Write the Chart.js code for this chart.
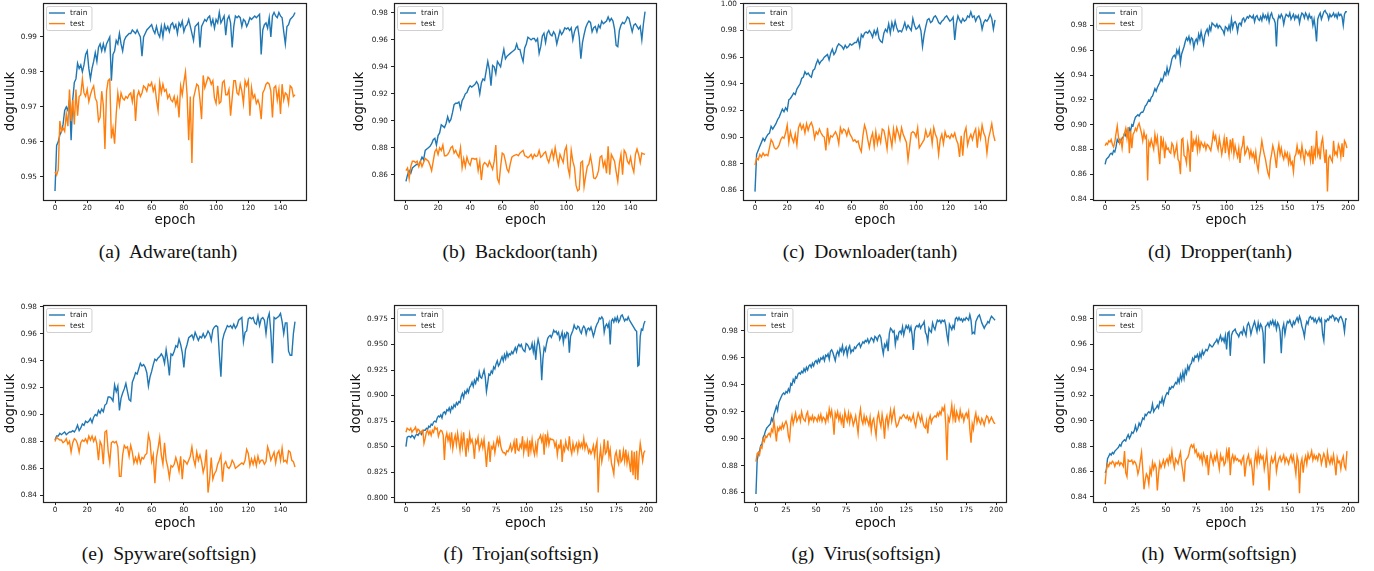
<!DOCTYPE html>
<html>
<head>
<meta charset="utf-8">
<script src="https://cdn.jsdelivr.net/npm/chart.js@4.4.0/dist/chart.umd.min.js"></script>
<style>
  body { margin: 0; background: #fff; width: 1374px; height: 571px; position: relative; overflow: hidden; }
  canvas { position: absolute; }
  .cap { position: absolute; font-family: "Liberation Serif", "Times New Roman", serif; font-size: 19.5px; line-height: 1; color: #111; white-space: pre; transform: translate(-50%, -50%); }
</style>
</head>
<body>
<script>
// accuracy per epoch
const adwareTrain = [
  0.946, 0.959, 0.960, 0.962, 0.963, 0.965, 0.969, 0.970, 0.969, 0.972,
  0.9605, 0.972, 0.977, 0.978, 0.9825, 0.981, 0.982, 0.980, 0.982, 0.985,
  0.986, 0.981, 0.978, 0.981, 0.983, 0.9855, 0.983, 0.987, 0.988, 0.986,
  0.988, 0.986, 0.988, 0.989, 0.990, 0.9775, 0.985, 0.986, 0.989, 0.988,
  0.991, 0.988, 0.986, 0.989, 0.990, 0.9905, 0.991, 0.991, 0.992, 0.9915,
  0.991, 0.992, 0.991, 0.990, 0.9845, 0.990, 0.991, 0.992, 0.9925, 0.993,
  0.9935, 0.992, 0.991, 0.993, 0.991, 0.990, 0.993, 0.990, 0.9935, 0.992,
  0.993, 0.9915, 0.9935, 0.994, 0.9925, 0.9935, 0.991, 0.994, 0.993, 0.9945,
  0.9915, 0.993, 0.9935, 0.995, 0.993, 0.991, 0.989, 0.993, 0.9935, 0.994,
  0.987, 0.993, 0.994, 0.995, 0.9945, 0.9955, 0.996, 0.9935, 0.995, 0.9925,
  0.995, 0.994, 0.997, 0.994, 0.995, 0.996, 0.9905, 0.995, 0.996, 0.994,
  0.987, 0.993, 0.996, 0.9955, 0.996, 0.9955, 0.993, 0.995, 0.9945, 0.993,
  0.994, 0.9955, 0.995, 0.9955, 0.996, 0.9955, 0.996, 0.9965, 0.985, 0.992,
  0.9935, 0.994, 0.9925, 0.9955, 0.990, 0.996, 0.997, 0.996, 0.9955, 0.997,
  0.996, 0.9955, 0.9915, 0.988, 0.993, 0.9935, 0.995, 0.9955, 0.996, 0.997
];
const adwareTest = [
  0.9515, 0.9505, 0.952, 0.966, 0.963, 0.964, 0.963, 0.968, 0.9645, 0.975,
  0.966, 0.972, 0.965, 0.975, 0.9675, 0.973, 0.9735, 0.978, 0.974, 0.973,
  0.975, 0.9715, 0.9735, 0.975, 0.976, 0.9725, 0.9715, 0.966, 0.967, 0.9745,
  0.9705, 0.958, 0.9745, 0.9775, 0.978, 0.961, 0.964, 0.9595, 0.968, 0.974,
  0.9705, 0.974, 0.9725, 0.972, 0.973, 0.9725, 0.9735, 0.974, 0.9715, 0.975,
  0.966, 0.973, 0.9745, 0.973, 0.974, 0.976, 0.9755, 0.9745, 0.9765, 0.976,
  0.977, 0.9745, 0.976, 0.972, 0.969, 0.977, 0.974, 0.9765, 0.9745, 0.975,
  0.9725, 0.9735, 0.972, 0.9715, 0.973, 0.9705, 0.9725, 0.967, 0.976, 0.9735,
  0.977, 0.980, 0.9735, 0.9605, 0.973, 0.954, 0.9725, 0.9745, 0.9765, 0.976,
  0.972, 0.9665, 0.979, 0.9755, 0.977, 0.9785, 0.978, 0.9765, 0.9775, 0.9725,
  0.971, 0.976, 0.971, 0.9715, 0.977, 0.9775, 0.9735, 0.9735, 0.975, 0.9675,
  0.9725, 0.9775, 0.9775, 0.974, 0.9735, 0.9765, 0.9745, 0.971, 0.9775, 0.976,
  0.9775, 0.9675, 0.9755, 0.9725, 0.9735, 0.971, 0.972, 0.9705, 0.9665, 0.974,
  0.975, 0.9765, 0.977, 0.9765, 0.9745, 0.967, 0.9755, 0.976, 0.972, 0.975,
  0.968, 0.9765, 0.972, 0.974, 0.9735, 0.971, 0.976, 0.9755, 0.973, 0.9735
];
const backdoorTrain = [
  0.855, 0.860, 0.863, 0.861, 0.865, 0.866, 0.867, 0.868, 0.867, 0.870,
  0.873, 0.871, 0.878, 0.879, 0.880, 0.881, 0.883, 0.886, 0.887, 0.882,
  0.889, 0.891, 0.897, 0.896, 0.895, 0.898, 0.903, 0.899, 0.901, 0.906,
  0.912, 0.913, 0.913, 0.914, 0.909, 0.915, 0.917, 0.920, 0.921, 0.924,
  0.926, 0.925, 0.926, 0.927, 0.929, 0.927, 0.920, 0.928, 0.931, 0.930,
  0.937, 0.944, 0.938, 0.926, 0.941, 0.940, 0.935, 0.944, 0.942, 0.940,
  0.947, 0.953, 0.946, 0.948, 0.949, 0.950, 0.951, 0.952, 0.953, 0.957,
  0.953, 0.953, 0.948, 0.944, 0.954, 0.957, 0.962, 0.961, 0.960, 0.961,
  0.961, 0.959, 0.961, 0.950, 0.955, 0.963, 0.965, 0.958, 0.965, 0.967,
  0.964, 0.963, 0.966, 0.964, 0.957, 0.962, 0.967, 0.964, 0.966, 0.969,
  0.968, 0.969, 0.967, 0.969, 0.960, 0.966, 0.969, 0.970, 0.962, 0.946,
  0.958, 0.964, 0.969, 0.972, 0.974, 0.973, 0.966, 0.969, 0.970, 0.966,
  0.971, 0.969, 0.974, 0.972, 0.973, 0.974, 0.977, 0.974, 0.976, 0.974,
  0.968, 0.956, 0.955, 0.967, 0.971, 0.973, 0.972, 0.974, 0.977, 0.976,
  0.971, 0.966, 0.971, 0.972, 0.970, 0.968, 0.970, 0.960, 0.972, 0.981
];
const backdoorTest = [
  0.863, 0.865, 0.857, 0.866, 0.870, 0.870, 0.869, 0.870, 0.866, 0.870,
  0.866, 0.869, 0.872, 0.871, 0.870, 0.867, 0.863, 0.870, 0.877, 0.879,
  0.875, 0.880, 0.878, 0.882, 0.874, 0.874, 0.875, 0.877, 0.880, 0.881,
  0.876, 0.878, 0.875, 0.873, 0.880, 0.865, 0.872, 0.866, 0.873, 0.869,
  0.867, 0.872, 0.872, 0.8715, 0.872, 0.863, 0.870, 0.856, 0.867, 0.869,
  0.868, 0.866, 0.870, 0.867, 0.864, 0.870, 0.882, 0.857, 0.854, 0.866,
  0.876, 0.875, 0.870, 0.864, 0.862, 0.868, 0.873, 0.874, 0.8745, 0.875,
  0.874, 0.876, 0.877, 0.878, 0.874, 0.8735, 0.8725, 0.8735, 0.875, 0.872,
  0.875, 0.8735, 0.874, 0.878, 0.873, 0.874, 0.876, 0.877, 0.872, 0.869,
  0.874, 0.878, 0.872, 0.880, 0.873, 0.867, 0.875, 0.872, 0.869, 0.878,
  0.881, 0.865, 0.8595, 0.878, 0.870, 0.8655, 0.852, 0.848, 0.849, 0.869,
  0.870, 0.851, 0.859, 0.866, 0.868, 0.874, 0.867, 0.8575, 0.857, 0.859,
  0.863, 0.873, 0.874, 0.866, 0.870, 0.861, 0.881, 0.860, 0.875, 0.8725,
  0.870, 0.862, 0.855, 0.868, 0.875, 0.860, 0.878, 0.876, 0.870, 0.868,
  0.873, 0.866, 0.862, 0.875, 0.879, 0.875, 0.869, 0.876, 0.8755, 0.875
];
const downloaderTrain = [
  0.859, 0.887, 0.890, 0.893, 0.896, 0.899, 0.897, 0.900, 0.902, 0.903,
  0.908, 0.906, 0.908, 0.910, 0.913, 0.915, 0.918, 0.921, 0.919, 0.922,
  0.920, 0.928, 0.929, 0.931, 0.933, 0.932, 0.936, 0.938, 0.940, 0.944,
  0.945, 0.949, 0.947, 0.948, 0.946, 0.945, 0.950, 0.951, 0.955, 0.958,
  0.955, 0.957, 0.958, 0.960, 0.961, 0.962, 0.958, 0.963, 0.966, 0.962,
  0.964, 0.968, 0.970, 0.969, 0.968, 0.966, 0.969, 0.967, 0.968, 0.970,
  0.969, 0.970, 0.971, 0.971, 0.974, 0.968, 0.977, 0.975, 0.978, 0.979,
  0.978, 0.980, 0.978, 0.975, 0.980, 0.977, 0.981, 0.974, 0.972, 0.971,
  0.978, 0.981, 0.979, 0.985, 0.978, 0.986, 0.981, 0.987, 0.982, 0.979,
  0.980, 0.979, 0.982, 0.986, 0.981, 0.984, 0.982, 0.980, 0.989, 0.984,
  0.981, 0.982, 0.984, 0.980, 0.968, 0.977, 0.983, 0.988, 0.989, 0.986,
  0.987, 0.990, 0.991, 0.989, 0.986, 0.985, 0.987, 0.988, 0.990, 0.991,
  0.989, 0.987, 0.988, 0.990, 0.973, 0.985, 0.991, 0.988, 0.986, 0.989,
  0.987, 0.988, 0.991, 0.990, 0.994, 0.990, 0.991, 0.987, 0.990, 0.991,
  0.988, 0.981, 0.986, 0.988, 0.987, 0.989, 0.992, 0.989, 0.981, 0.988
];
const downloaderTest = [
  0.879, 0.884, 0.883, 0.887, 0.885, 0.888, 0.886, 0.887, 0.886, 0.892,
  0.898, 0.896, 0.892, 0.891, 0.892, 0.894, 0.898, 0.900, 0.899, 0.903,
  0.909, 0.896, 0.904, 0.899, 0.896, 0.902, 0.894, 0.907, 0.910, 0.906,
  0.909, 0.903, 0.910, 0.905, 0.909, 0.911, 0.907, 0.899, 0.904, 0.902,
  0.906, 0.903, 0.901, 0.900, 0.890, 0.907, 0.896, 0.901, 0.900, 0.902,
  0.904, 0.901, 0.895, 0.907, 0.903, 0.906, 0.905, 0.901, 0.906, 0.902,
  0.900, 0.897, 0.898, 0.896, 0.897, 0.892, 0.889, 0.901, 0.909, 0.905,
  0.898, 0.892, 0.899, 0.903, 0.893, 0.904, 0.895, 0.901, 0.896, 0.906,
  0.905, 0.899, 0.891, 0.906, 0.900, 0.893, 0.906, 0.898, 0.907, 0.903,
  0.898, 0.907, 0.902, 0.899, 0.896, 0.883, 0.893, 0.903, 0.904, 0.903,
  0.900, 0.907, 0.892, 0.894, 0.896, 0.898, 0.905, 0.900, 0.901, 0.905,
  0.895, 0.907, 0.902, 0.899, 0.887, 0.898, 0.902, 0.895, 0.904, 0.900,
  0.901, 0.899, 0.902, 0.900, 0.903, 0.898, 0.895, 0.885, 0.901, 0.886,
  0.903, 0.907, 0.894, 0.899, 0.902, 0.898, 0.903, 0.906, 0.892, 0.905,
  0.899, 0.909, 0.903, 0.900, 0.888, 0.899, 0.904, 0.910, 0.902, 0.897
];
const dropperTrain = [
  0.868, 0.872, 0.873, 0.874, 0.876, 0.877, 0.876, 0.879, 0.878, 0.882,
  0.888, 0.886, 0.888, 0.887, 0.889, 0.890, 0.893, 0.891, 0.895, 0.890,
  0.897, 0.895, 0.900, 0.899, 0.903, 0.906, 0.907, 0.908, 0.907, 0.909,
  0.910, 0.910, 0.912, 0.915, 0.916, 0.918, 0.920, 0.919, 0.922, 0.923,
  0.926, 0.929, 0.927, 0.930, 0.932, 0.934, 0.937, 0.935, 0.938, 0.942,
  0.940, 0.946, 0.941, 0.944, 0.948, 0.953, 0.955, 0.956, 0.954, 0.960,
  0.957, 0.961, 0.950, 0.957, 0.960, 0.963, 0.967, 0.970, 0.968, 0.971,
  0.966, 0.970, 0.969, 0.962, 0.967, 0.969, 0.966, 0.973, 0.969, 0.975,
  0.970, 0.965, 0.972, 0.975, 0.977, 0.973, 0.979, 0.976, 0.982, 0.981,
  0.980, 0.979, 0.981, 0.978, 0.980, 0.979, 0.977, 0.976, 0.973, 0.979,
  0.978, 0.976, 0.980, 0.976, 0.985, 0.978, 0.982, 0.983, 0.981, 0.975,
  0.981, 0.982, 0.980, 0.985, 0.986, 0.983, 0.985, 0.987, 0.986, 0.988,
  0.987, 0.986, 0.988, 0.983, 0.987, 0.988, 0.985, 0.984, 0.987, 0.984,
  0.989, 0.986, 0.988, 0.985, 0.989, 0.983, 0.988, 0.990, 0.986, 0.985,
  0.982, 0.963, 0.984, 0.988, 0.986, 0.989, 0.987, 0.981, 0.986, 0.989,
  0.988, 0.987, 0.990, 0.985, 0.987, 0.989, 0.985, 0.988, 0.986, 0.988,
  0.982, 0.987, 0.990, 0.989, 0.986, 0.990, 0.988, 0.985, 0.989, 0.986,
  0.987, 0.980, 0.985, 0.978, 0.967, 0.985, 0.988, 0.990, 0.985, 0.988,
  0.991, 0.992, 0.990, 0.989, 0.985, 0.989, 0.987, 0.988, 0.990, 0.987,
  0.989, 0.986, 0.990, 0.988, 0.989, 0.987, 0.980, 0.989, 0.991, 0.991
];
const dropperTest = [
  0.883, 0.885, 0.884, 0.887, 0.886, 0.888, 0.884, 0.882, 0.886, 0.893,
  0.899, 0.890, 0.885, 0.888, 0.881, 0.890, 0.893, 0.897, 0.889, 0.898,
  0.877, 0.895, 0.881, 0.892, 0.894, 0.897, 0.895, 0.899, 0.901, 0.897,
  0.893, 0.887, 0.894, 0.889, 0.891, 0.855, 0.886, 0.883, 0.888, 0.884,
  0.880, 0.892, 0.885, 0.890, 0.878, 0.868, 0.891, 0.882, 0.887, 0.873,
  0.884, 0.880, 0.881, 0.878, 0.877, 0.885, 0.883, 0.875, 0.879, 0.884,
  0.872, 0.870, 0.860, 0.888, 0.889, 0.875, 0.874, 0.869, 0.884, 0.878,
  0.862, 0.895, 0.878, 0.887, 0.884, 0.889, 0.879, 0.888, 0.880, 0.886,
  0.884, 0.882, 0.885, 0.880, 0.884, 0.883, 0.881, 0.879, 0.885, 0.893,
  0.888, 0.891, 0.884, 0.880, 0.889, 0.883, 0.876, 0.882, 0.889, 0.877,
  0.890, 0.882, 0.875, 0.888, 0.880, 0.889, 0.876, 0.883, 0.878, 0.874,
  0.881, 0.869, 0.880, 0.883, 0.891, 0.876, 0.878, 0.882, 0.880, 0.874,
  0.879, 0.874, 0.877, 0.871, 0.878, 0.868, 0.863, 0.873, 0.879, 0.887,
  0.881, 0.876, 0.872, 0.866, 0.861, 0.858, 0.871, 0.876, 0.883, 0.879,
  0.873, 0.865, 0.878, 0.884, 0.876, 0.881, 0.875, 0.872, 0.878, 0.874,
  0.877, 0.869, 0.875, 0.868, 0.870, 0.862, 0.874, 0.876, 0.883, 0.877,
  0.879, 0.874, 0.883, 0.876, 0.870, 0.879, 0.877, 0.875, 0.878, 0.871,
  0.883, 0.868, 0.880, 0.875, 0.895, 0.876, 0.880, 0.872, 0.885, 0.889,
  0.878, 0.869, 0.880, 0.846, 0.873, 0.875, 0.872, 0.870, 0.887, 0.876,
  0.878, 0.875, 0.884, 0.881, 0.874, 0.885, 0.874, 0.887, 0.885, 0.881
];
const spywareTrain = [
  0.881, 0.884, 0.884, 0.886, 0.885, 0.886, 0.887, 0.885, 0.886, 0.887,
  0.887, 0.888, 0.887, 0.889, 0.892, 0.888, 0.890, 0.893, 0.892, 0.895,
  0.894, 0.895, 0.897, 0.894, 0.898, 0.900, 0.899, 0.903, 0.901, 0.904,
  0.902, 0.907, 0.908, 0.913, 0.913, 0.912, 0.910, 0.922, 0.917, 0.921,
  0.903, 0.912, 0.916, 0.919, 0.923, 0.917, 0.911, 0.910, 0.924, 0.927,
  0.931, 0.930, 0.934, 0.938, 0.936, 0.937, 0.935, 0.931, 0.921, 0.928,
  0.932, 0.937, 0.941, 0.940, 0.942, 0.943, 0.945, 0.943, 0.938, 0.948,
  0.940, 0.929, 0.945, 0.944, 0.947, 0.951, 0.950, 0.956, 0.952, 0.946,
  0.935, 0.948, 0.952, 0.957, 0.958, 0.959, 0.956, 0.961, 0.958, 0.955,
  0.958, 0.957, 0.960, 0.957, 0.959, 0.962, 0.960, 0.955, 0.963, 0.965,
  0.966, 0.965, 0.945, 0.928, 0.955, 0.960, 0.963, 0.966, 0.965, 0.966,
  0.964, 0.967, 0.964, 0.966, 0.970, 0.971, 0.972, 0.954, 0.961, 0.962,
  0.971, 0.972, 0.971, 0.972, 0.968, 0.967, 0.973, 0.966, 0.971, 0.972,
  0.970, 0.960, 0.971, 0.975, 0.961, 0.938, 0.972, 0.971, 0.972, 0.973,
  0.975, 0.969, 0.960, 0.968, 0.968, 0.947, 0.944, 0.944, 0.960, 0.969
];
const spywareTest = [
  0.880, 0.883, 0.882, 0.881, 0.881, 0.879, 0.880, 0.882, 0.878, 0.880,
  0.872, 0.879, 0.882, 0.881, 0.878, 0.872, 0.879, 0.881, 0.880, 0.882,
  0.879, 0.884, 0.881, 0.884, 0.880, 0.883, 0.878, 0.866, 0.880, 0.877,
  0.863, 0.887, 0.888, 0.873, 0.864, 0.879, 0.880, 0.879, 0.880, 0.876,
  0.854, 0.854, 0.870, 0.877, 0.875, 0.876, 0.869, 0.877, 0.872, 0.864,
  0.868, 0.864, 0.870, 0.864, 0.868, 0.867, 0.870, 0.871, 0.885, 0.880,
  0.865, 0.870, 0.849, 0.868, 0.875, 0.883, 0.870, 0.863, 0.879, 0.866,
  0.861, 0.853, 0.862, 0.861, 0.863, 0.868, 0.864, 0.858, 0.869, 0.852,
  0.866, 0.865, 0.863, 0.866, 0.869, 0.876, 0.867, 0.862, 0.872, 0.866,
  0.870, 0.865, 0.857, 0.862, 0.874, 0.842, 0.852, 0.868, 0.852, 0.856,
  0.858, 0.863, 0.866, 0.870, 0.850, 0.863, 0.865, 0.861, 0.860, 0.862,
  0.866, 0.864, 0.860, 0.861, 0.862, 0.863, 0.864, 0.863, 0.866, 0.874,
  0.871, 0.862, 0.867, 0.863, 0.868, 0.862, 0.869, 0.864, 0.866, 0.866,
  0.863, 0.865, 0.876, 0.872, 0.866, 0.869, 0.872, 0.864, 0.871, 0.873,
  0.866, 0.875, 0.865, 0.866, 0.864, 0.873, 0.872, 0.866, 0.865, 0.861
];
const trojanTrain = [
  0.850, 0.859, 0.860, 0.860, 0.859, 0.861, 0.860, 0.858, 0.861, 0.862,
  0.861, 0.863, 0.864, 0.862, 0.865, 0.866, 0.866, 0.868, 0.867, 0.870,
  0.869, 0.872, 0.871, 0.874, 0.875, 0.874, 0.878, 0.880, 0.879, 0.881,
  0.878, 0.883, 0.884, 0.882, 0.886, 0.885, 0.888, 0.884, 0.889, 0.887,
  0.891, 0.889, 0.893, 0.891, 0.894, 0.893, 0.899, 0.902, 0.898, 0.904,
  0.902, 0.906, 0.903, 0.908, 0.910, 0.913, 0.909, 0.915, 0.912, 0.917,
  0.915, 0.923, 0.918, 0.917, 0.921, 0.925, 0.918, 0.904, 0.912, 0.921,
  0.920, 0.924, 0.922, 0.928, 0.926, 0.931, 0.934, 0.929, 0.931, 0.935,
  0.938, 0.934, 0.940, 0.936, 0.942, 0.938, 0.941, 0.940, 0.943, 0.941,
  0.944, 0.947, 0.943, 0.948, 0.950, 0.948, 0.950, 0.946, 0.944, 0.943,
  0.951, 0.950, 0.948, 0.945, 0.946, 0.951, 0.943, 0.950, 0.935, 0.948,
  0.955, 0.950, 0.940, 0.915, 0.936, 0.947, 0.944, 0.951, 0.956, 0.958,
  0.959, 0.957, 0.960, 0.964, 0.962, 0.963, 0.960, 0.962, 0.955, 0.958,
  0.962, 0.952, 0.960, 0.957, 0.962, 0.961, 0.942, 0.958, 0.961, 0.964,
  0.969, 0.966, 0.965, 0.968, 0.967, 0.963, 0.961, 0.966, 0.968, 0.966,
  0.960, 0.965, 0.966, 0.964, 0.967, 0.963, 0.958, 0.962, 0.967, 0.970,
  0.972, 0.976, 0.975, 0.977, 0.975, 0.962, 0.968, 0.970, 0.967, 0.971,
  0.950, 0.973, 0.975, 0.972, 0.976, 0.973, 0.977, 0.972, 0.974, 0.978,
  0.979, 0.976, 0.973, 0.975, 0.974, 0.977, 0.974, 0.972, 0.970, 0.968,
  0.966, 0.964, 0.963, 0.929, 0.930, 0.958, 0.965, 0.964, 0.970, 0.973
];
const trojanTest = [
  0.864, 0.868, 0.867, 0.866, 0.868, 0.864, 0.866, 0.867, 0.869, 0.864,
  0.867, 0.866, 0.863, 0.865, 0.866, 0.853, 0.858, 0.864, 0.866, 0.862,
  0.865, 0.861, 0.866, 0.864, 0.869, 0.867, 0.868, 0.860, 0.864, 0.866,
  0.865, 0.861, 0.837, 0.858, 0.863, 0.856, 0.861, 0.852, 0.864, 0.848,
  0.856, 0.861, 0.852, 0.863, 0.855, 0.846, 0.860, 0.850, 0.864, 0.852,
  0.840, 0.858, 0.849, 0.862, 0.854, 0.857, 0.851, 0.838, 0.856, 0.853,
  0.859, 0.847, 0.851, 0.856, 0.849, 0.857, 0.845, 0.830, 0.846, 0.855,
  0.835, 0.850, 0.848, 0.853, 0.844, 0.852, 0.858, 0.852, 0.858, 0.850,
  0.846, 0.844, 0.844, 0.842, 0.846, 0.845, 0.848, 0.852, 0.846, 0.849,
  0.855, 0.843, 0.858, 0.847, 0.846, 0.852, 0.849, 0.860, 0.844, 0.853,
  0.848, 0.855, 0.840, 0.856, 0.846, 0.857, 0.847, 0.842, 0.852, 0.844,
  0.857, 0.858, 0.861, 0.855, 0.860, 0.842, 0.862, 0.853, 0.862, 0.852,
  0.858, 0.857, 0.857, 0.856, 0.850, 0.854, 0.842, 0.851, 0.849, 0.857,
  0.835, 0.850, 0.846, 0.855, 0.849, 0.847, 0.860, 0.848, 0.843, 0.853,
  0.846, 0.850, 0.853, 0.845, 0.854, 0.849, 0.853, 0.849, 0.858, 0.848,
  0.853, 0.850, 0.844, 0.847, 0.843, 0.846, 0.851, 0.841, 0.850, 0.855,
  0.805, 0.838, 0.848, 0.835, 0.842, 0.857, 0.843, 0.845, 0.856, 0.840,
  0.847, 0.834, 0.829, 0.823, 0.841, 0.845, 0.837, 0.833, 0.847, 0.835,
  0.837, 0.846, 0.836, 0.847, 0.834, 0.842, 0.834, 0.825, 0.846, 0.822,
  0.845, 0.818, 0.846, 0.817, 0.840, 0.853, 0.845, 0.836, 0.844, 0.846
];
const virusTrain = [
  0.859, 0.884, 0.889, 0.891, 0.895, 0.896, 0.901, 0.903, 0.906, 0.908,
  0.909, 0.910, 0.911, 0.915, 0.913, 0.918, 0.921, 0.924, 0.921, 0.927,
  0.929, 0.931, 0.933, 0.934, 0.933, 0.935, 0.934, 0.937, 0.935, 0.941,
  0.940, 0.944, 0.942, 0.946, 0.945, 0.948, 0.949, 0.948, 0.950, 0.949,
  0.952, 0.950, 0.953, 0.951, 0.954, 0.955, 0.953, 0.956, 0.954, 0.957,
  0.958, 0.956, 0.959, 0.957, 0.960, 0.959, 0.961, 0.958, 0.962, 0.961,
  0.963, 0.959, 0.965, 0.966, 0.964, 0.961, 0.958, 0.963, 0.965, 0.962,
  0.967, 0.965, 0.969, 0.963, 0.966, 0.968, 0.962, 0.967, 0.969, 0.964,
  0.966, 0.965, 0.968, 0.967, 0.969, 0.970, 0.971, 0.968, 0.970, 0.972,
  0.971, 0.973, 0.972, 0.974, 0.971, 0.973, 0.975, 0.974, 0.972, 0.976,
  0.975, 0.973, 0.976, 0.977, 0.975, 0.968, 0.963, 0.970, 0.968, 0.972,
  0.965, 0.978, 0.982, 0.981, 0.979, 0.980, 0.970, 0.976, 0.974, 0.979,
  0.980, 0.978, 0.983, 0.977, 0.981, 0.984, 0.982, 0.984, 0.980, 0.983,
  0.977, 0.966, 0.980, 0.983, 0.984, 0.983, 0.985, 0.982, 0.984, 0.985,
  0.987, 0.979, 0.977, 0.972, 0.982, 0.980, 0.979, 0.986, 0.983, 0.981,
  0.985, 0.988, 0.987, 0.988, 0.986, 0.988, 0.987, 0.988, 0.984, 0.977,
  0.972, 0.985, 0.983, 0.981, 0.984, 0.982, 0.989, 0.990, 0.988, 0.990,
  0.988, 0.989, 0.987, 0.989, 0.988, 0.990, 0.989, 0.988, 0.992, 0.988,
  0.978, 0.979, 0.978, 0.987, 0.989, 0.991, 0.992, 0.989, 0.986, 0.984,
  0.982, 0.984, 0.985, 0.987, 0.986, 0.989, 0.991, 0.990, 0.989, 0.988
];
const virusTest = [
  0.883, 0.889, 0.890, 0.888, 0.894, 0.893, 0.900, 0.898, 0.902, 0.901,
  0.903, 0.904, 0.902, 0.907, 0.905, 0.913, 0.906, 0.898, 0.908, 0.906,
  0.909, 0.907, 0.911, 0.908, 0.911, 0.913, 0.910, 0.902, 0.899, 0.912,
  0.917, 0.911, 0.915, 0.919, 0.913, 0.915, 0.917, 0.913, 0.920, 0.916,
  0.914, 0.913, 0.918, 0.920, 0.912, 0.916, 0.914, 0.917, 0.913, 0.916,
  0.915, 0.913, 0.917, 0.914, 0.918, 0.913, 0.916, 0.915, 0.912, 0.918,
  0.914, 0.922, 0.917, 0.921, 0.914, 0.903, 0.919, 0.916, 0.920, 0.914,
  0.918, 0.912, 0.916, 0.908, 0.920, 0.916, 0.913, 0.919, 0.912, 0.918,
  0.915, 0.910, 0.913, 0.917, 0.911, 0.904, 0.916, 0.922, 0.914, 0.911,
  0.917, 0.912, 0.916, 0.913, 0.910, 0.916, 0.906, 0.913, 0.915, 0.908,
  0.902, 0.915, 0.919, 0.913, 0.909, 0.918, 0.912, 0.900, 0.914, 0.917,
  0.909, 0.915, 0.921, 0.913, 0.918, 0.922, 0.914, 0.909, 0.910, 0.913,
  0.916, 0.915, 0.917, 0.918, 0.916, 0.915, 0.917, 0.914, 0.916, 0.913,
  0.915, 0.918, 0.912, 0.909, 0.915, 0.919, 0.916, 0.913, 0.917, 0.912,
  0.909, 0.908, 0.913, 0.904, 0.914, 0.917, 0.912, 0.915, 0.916, 0.917,
  0.916, 0.919, 0.917, 0.920, 0.918, 0.923, 0.921, 0.924, 0.910, 0.884,
  0.916, 0.913, 0.918, 0.925, 0.915, 0.922, 0.912, 0.920, 0.917, 0.914,
  0.921, 0.916, 0.918, 0.913, 0.917, 0.919, 0.916, 0.920, 0.907, 0.897,
  0.911, 0.907, 0.915, 0.919, 0.912, 0.916, 0.913, 0.911, 0.915, 0.913,
  0.910, 0.914, 0.917, 0.916, 0.912, 0.914, 0.916, 0.914, 0.912, 0.911
];
const wormTrain = [
  0.859, 0.861, 0.870, 0.872, 0.874, 0.873, 0.875, 0.874, 0.876, 0.877,
  0.878, 0.879, 0.881, 0.880, 0.883, 0.884, 0.885, 0.884, 0.887, 0.889,
  0.886, 0.888, 0.891, 0.890, 0.892, 0.896, 0.892, 0.894, 0.898, 0.896,
  0.899, 0.902, 0.901, 0.905, 0.904, 0.906, 0.907, 0.906, 0.908, 0.913,
  0.907, 0.909, 0.910, 0.912, 0.910, 0.915, 0.914, 0.918, 0.913, 0.917,
  0.920, 0.922, 0.921, 0.926, 0.925, 0.927, 0.926, 0.928, 0.930, 0.929,
  0.933, 0.930, 0.936, 0.932, 0.938, 0.933, 0.940, 0.937, 0.943, 0.940,
  0.944, 0.945, 0.949, 0.947, 0.951, 0.950, 0.952, 0.948, 0.953, 0.950,
  0.955, 0.952, 0.954, 0.956, 0.955, 0.957, 0.960, 0.959, 0.958, 0.959,
  0.961, 0.962, 0.964, 0.961, 0.964, 0.967, 0.963, 0.965, 0.962, 0.967,
  0.956, 0.969, 0.970, 0.951, 0.967, 0.970, 0.971, 0.972, 0.969, 0.968,
  0.966, 0.969, 0.970, 0.968, 0.973, 0.970, 0.967, 0.975, 0.977, 0.974,
  0.968, 0.972, 0.975, 0.978, 0.974, 0.970, 0.977, 0.972, 0.976, 0.974,
  0.969, 0.945, 0.974, 0.975, 0.977, 0.974, 0.978, 0.976, 0.979, 0.975,
  0.978, 0.972, 0.977, 0.975, 0.970, 0.953, 0.972, 0.976, 0.968, 0.974,
  0.978, 0.977, 0.979, 0.976, 0.974, 0.978, 0.976, 0.979, 0.981, 0.978,
  0.982, 0.979, 0.974, 0.971, 0.966, 0.974, 0.978, 0.976, 0.981, 0.982,
  0.980, 0.981, 0.978, 0.980, 0.977, 0.979, 0.981, 0.978, 0.980, 0.968,
  0.963, 0.979, 0.978, 0.980, 0.979, 0.982, 0.981, 0.983, 0.982, 0.979,
  0.981, 0.980, 0.978, 0.981, 0.982, 0.980, 0.977, 0.970, 0.980, 0.980
];
const wormTest = [
  0.850, 0.861, 0.866, 0.864, 0.867, 0.866, 0.868, 0.867, 0.864, 0.867,
  0.866, 0.868, 0.865, 0.867, 0.866, 0.864, 0.876, 0.859, 0.856, 0.869,
  0.868, 0.868, 0.869, 0.866, 0.868, 0.867, 0.864, 0.858, 0.862, 0.869,
  0.875, 0.862, 0.846, 0.853, 0.858, 0.856, 0.850, 0.862, 0.858, 0.867,
  0.862, 0.866, 0.863, 0.845, 0.858, 0.867, 0.863, 0.866, 0.869, 0.864,
  0.868, 0.870, 0.866, 0.872, 0.868, 0.876, 0.868, 0.863, 0.870, 0.868,
  0.866, 0.871, 0.875, 0.866, 0.860, 0.852, 0.868, 0.870, 0.871, 0.874,
  0.879, 0.881, 0.879, 0.881, 0.875, 0.877, 0.872, 0.874, 0.870, 0.873,
  0.867, 0.874, 0.871, 0.866, 0.873, 0.857, 0.868, 0.874, 0.870, 0.866,
  0.872, 0.869, 0.875, 0.868, 0.862, 0.873, 0.869, 0.871, 0.865, 0.867,
  0.876, 0.870, 0.879, 0.857, 0.870, 0.873, 0.868, 0.872, 0.869, 0.870,
  0.868, 0.869, 0.866, 0.870, 0.872, 0.856, 0.865, 0.870, 0.873, 0.866,
  0.869, 0.862, 0.849, 0.868, 0.874, 0.866, 0.876, 0.868, 0.873, 0.870,
  0.872, 0.862, 0.868, 0.875, 0.863, 0.845, 0.866, 0.871, 0.867, 0.869,
  0.873, 0.860, 0.866, 0.870, 0.872, 0.868, 0.870, 0.873, 0.867, 0.871,
  0.869, 0.866, 0.870, 0.873, 0.868, 0.872, 0.865, 0.858, 0.872, 0.868,
  0.843, 0.866, 0.870, 0.859, 0.868, 0.872, 0.866, 0.874, 0.870, 0.872,
  0.876, 0.869, 0.873, 0.870, 0.872, 0.869, 0.874, 0.873, 0.866, 0.870,
  0.874, 0.871, 0.863, 0.875, 0.869, 0.866, 0.871, 0.867, 0.873, 0.866,
  0.857, 0.871, 0.867, 0.868, 0.862, 0.869, 0.872, 0.864, 0.862, 0.876
];

// tick labels
const xTicks150 = [0, 20, 40, 60, 80, 100, 120, 140];
const xTicks200 = [0, 25, 50, 75, 100, 125, 150, 175, 200];
const yTicksAdware = [0.95, 0.96, 0.97, 0.98, 0.99];
const yTicksBackdoor = [0.86, 0.88, 0.90, 0.92, 0.94, 0.96, 0.98];
const yTicksDownloader = [0.86, 0.88, 0.90, 0.92, 0.94, 0.96, 0.98, 1.00];
const yTicksDropper = [0.84, 0.86, 0.88, 0.90, 0.92, 0.94, 0.96, 0.98];
const yTicksSpyware = [0.84, 0.86, 0.88, 0.90, 0.92, 0.94, 0.96, 0.98];
const yTicksTrojan = [0.800, 0.825, 0.850, 0.875, 0.900, 0.925, 0.950, 0.975];
const yTicksVirus = [0.86, 0.88, 0.90, 0.92, 0.94, 0.96, 0.98];
const yTicksWorm = [0.84, 0.86, 0.88, 0.90, 0.92, 0.94, 0.96, 0.98];

const captions = ['(a)  Adware(tanh)', '(b)  Backdoor(tanh)', '(c)  Downloader(tanh)', '(d)  Dropper(tanh)',
  '(e)  Spyware(softsign)', '(f)  Trojan(softsign)', '(g)  Virus(softsign)', '(h)  Worm(softsign)'];

// layout: frame = [left, right, top, bottom] of the axes box in page pixels
const panels = [
  { train: adwareTrain, test: adwareTest, xt: xTicks150, yt: yTicksAdware, dec: 2, yMin: 0.9434, yMax: 0.9997, frame: [43, 307, 3, 200], titleX: 11, epochY: 220, capX: 168, capY: 252 },
  { train: backdoorTrain, test: backdoorTest, xt: xTicks150, yt: yTicksBackdoor, dec: 2, yMin: 0.8412, yMax: 0.9874, frame: [394, 657, 3, 200], titleX: 360, epochY: 220, capX: 520, capY: 252 },
  { train: downloaderTrain, test: downloaderTest, xt: xTicks150, yt: yTicksDownloader, dec: 2, yMin: 0.8527, yMax: 1.0007, frame: [743, 1007, 3, 200], titleX: 711, epochY: 220, capX: 870, capY: 252 },
  { train: dropperTrain, test: dropperTest, xt: xTicks200, yt: yTicksDropper, dec: 2, yMin: 0.8392, yMax: 0.9981, frame: [1093, 1359, 3, 200], titleX: 1061, epochY: 220, capX: 1220, capY: 252 },
  { train: spywareTrain, test: spywareTest, xt: xTicks150, yt: yTicksSpyware, dec: 2, yMin: 0.835, yMax: 0.9813, frame: [43, 307, 305, 502], titleX: 11, epochY: 523, capX: 169, capY: 554 },
  { train: trojanTrain, test: trojanTest, xt: xTicks200, yt: yTicksTrojan, dec: 3, yMin: 0.7957, yMax: 0.9887, frame: [394, 657, 305, 502], titleX: 357, epochY: 523, capX: 521, capY: 554 },
  { train: virusTrain, test: virusTest, xt: xTicks200, yt: yTicksVirus, dec: 2, yMin: 0.853, yMax: 0.9993, frame: [744, 1007, 305, 502], titleX: 711, epochY: 523, capX: 866, capY: 554 },
  { train: wormTrain, test: wormTest, xt: xTicks200, yt: yTicksWorm, dec: 2, yMin: 0.836, yMax: 0.991, frame: [1093, 1359, 305, 502], titleX: 1061, epochY: 523, capX: 1219, capY: 554 }
];

Chart.defaults.font.family = 'DejaVu Sans';
Chart.defaults.color = '#222';

// matplotlib-like box around the axes
const framePlugin = {
  id: 'frame',
  afterDraw(chart) {
    const a = chart.chartArea, ctx = chart.ctx;
    ctx.save();
    ctx.strokeStyle = '#222';
    ctx.lineWidth = 1.2;
    ctx.strokeRect(a.left + 0.5, a.top + 0.5, a.right - a.left - 1, a.bottom - a.top);
    ctx.restore();
  }
};

// legend drawn inside the upper-left corner, like plt.legend()
const insideLegend = {
  id: 'insideLegend',
  afterDraw(chart) {
    const a = chart.chartArea, ctx = chart.ctx;
    const x = a.left + 3, y = a.top + 3;
    ctx.save();
    ctx.font = '7.5px "DejaVu Sans"';
    const tw = Math.max(...chart.data.datasets.map(d => ctx.measureText(d.label).width));
    const w = 24 + tw + 4, h = 24;
    ctx.beginPath();
    ctx.roundRect(x + 0.5, y + 0.5, w, h, 2);
    ctx.fillStyle = 'rgba(255,255,255,0.8)';
    ctx.fill();
    ctx.strokeStyle = '#d0d0d0';
    ctx.lineWidth = 1;
    ctx.stroke();
    chart.data.datasets.forEach((d, i) => {
      const ly = y + 7 + i * 10.6;
      ctx.beginPath();
      ctx.moveTo(x + 3, ly);
      ctx.lineTo(x + 19, ly);
      ctx.strokeStyle = d.borderColor;
      ctx.lineWidth = 1.4;
      ctx.stroke();
      ctx.fillStyle = '#222';
      ctx.textBaseline = 'middle';
      ctx.fillText(d.label, x + 24, ly);
    });
    ctx.restore();
  }
};

panels.forEach((p, k) => {
  const [L, R, T, B] = p.frame;
  const yW = Math.round(L - p.titleX + 6.75);
  const xH = Math.round(p.epochY + 6.75 - B);
  const n = p.train.length;
  const pad = n * 0.05 - 0.05;

  const cv = document.createElement('canvas');
  cv.width = R - L + yW + 10;
  cv.height = B - T + 10 + xH;
  cv.style.left = (L - yW) + 'px';
  cv.style.top = (T - 10) + 'px';
  document.body.appendChild(cv);

  new Chart(cv, {
    type: 'line',
    data: {
      datasets: [
        { label: 'train', data: p.train.map((v, i) => ({ x: i, y: v })), borderColor: '#1f77b4', borderWidth: 1.4, pointRadius: 0, order: 1 },
        { label: 'test', data: p.test.map((v, i) => ({ x: i, y: v })), borderColor: '#ff7f0e', borderWidth: 1.4, pointRadius: 0, order: 0 }
      ]
    },
    options: {
      responsive: false,
      animation: false,
      devicePixelRatio: 1,
      events: [],
      layout: { padding: { top: 10, right: 10, left: 0, bottom: 0 } },
      plugins: { legend: { display: false }, tooltip: { enabled: false } },
      scales: {
        x: {
          type: 'linear',
          min: -pad,
          max: n - 1 + pad,
          afterBuildTicks: s => { s.ticks = p.xt.map(v => ({ value: v })); },
          afterFit: s => { s.height = xH; },
          grid: { drawOnChartArea: false, drawTicks: true, tickLength: 3, color: '#222' },
          border: { display: false },
          ticks: { autoSkip: false, maxRotation: 0, padding: 1, font: { size: 7.3 } },
          title: { display: true, text: 'epoch', padding: 0, color: '#111', font: { size: 13.5, lineHeight: 1 } }
        },
        y: {
          min: p.yMin,
          max: p.yMax,
          afterBuildTicks: s => { s.ticks = p.yt.map(v => ({ value: v })); },
          afterFit: s => { s.width = yW; },
          grid: { drawOnChartArea: false, drawTicks: true, tickLength: 3, color: '#222' },
          border: { display: false },
          ticks: { autoSkip: false, padding: 3, font: { size: 7.3 }, callback: v => v.toFixed(p.dec) },
          title: { display: true, text: 'dogruluk', padding: 0, color: '#111', font: { size: 13.5, lineHeight: 1 } }
        }
      }
    },
    plugins: [framePlugin, insideLegend]
  });

  const cap = document.createElement('div');
  cap.className = 'cap';
  cap.textContent = captions[k];
  cap.style.left = p.capX + 'px';
  cap.style.top = p.capY + 'px';
  document.body.appendChild(cap);
});
</script>
</body>
</html>
